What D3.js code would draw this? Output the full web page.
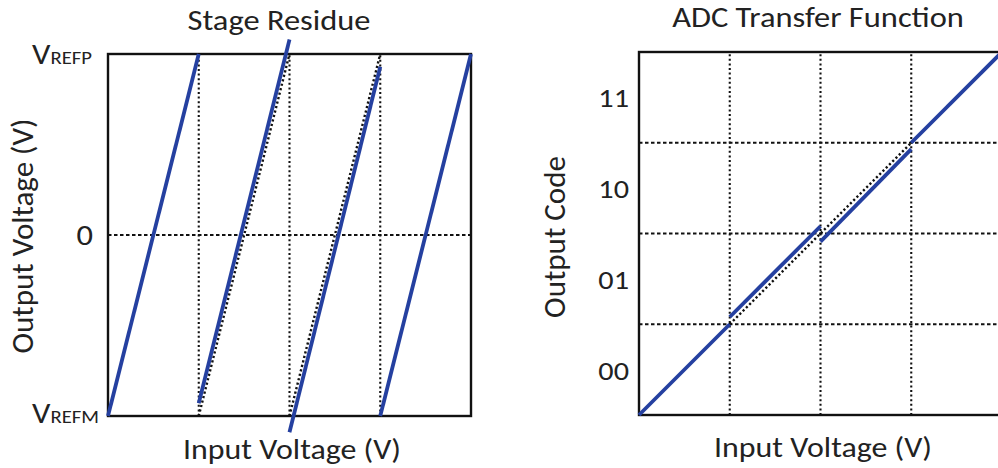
<!DOCTYPE html>
<html>
<head>
<meta charset="utf-8">
<script src="https://cdn.jsdelivr.net/npm/d3@7"></script>
<style>
  body { margin: 0; background: #fff; }
  svg { display: block; }
  text { font-family: Calibri, Carlito, "Open Sans", sans-serif; fill: #222; }
</style>
</head>
<body>
<svg id="vis" width="998" height="468"></svg>
<script>
// stage residue: blue segments (x in quarters of input range, y from VREFM=-1 to VREFP=1)
var residueSegments = [
  [[0, -1.00], [1, 1.00]],
  [[1, -0.93], [2, 1.08]],
  [[2, -1.09], [3, 0.93]],
  [[3, -1.00], [4, 1.00]]
];
var residueIdeal = [
  [[1, -1], [2, 1]],
  [[2, -1], [3, 1]]
];
var residueTicks = [
  {v: 1, main: "V", sub: "REFP"},
  {v: 0, main: "0", sub: ""},
  {v: -1, main: "V", sub: "REFM"}
];

// ADC transfer function: output code steps (y in code units 0..4)
var transferSegments = [
  [[0, 0.00], [1, 1.00]],
  [[1, 1.08], [2, 2.08]],
  [[2, 1.91], [3, 2.93]],
  [[3, 3.00], [4, 4.00]]
];
var transferIdeal = [
  [[1, 1], [3, 3]]
];
var codeLabels = ["00", "01", "10", "11"];
var gridLines = [1, 2, 3];

var blue = "#2540a0";
var stretch = " scale(1.12,1)";   // the source picture is a bit wider than tall

function makeCanvas(visName){
    return d3.select(visName);
}

function addDefaultText(canvas, transformation, text, size){
    return canvas.append('text')
                 .attr('text-anchor', 'middle')
                 .attr('transform', transformation)
                 .style('font-size', size + 'px')
                 .text(text);
}

function plotSegments(canvas, data, xScale, yScale, color, width, dash){
    return canvas.selectAll(null)
              .data(data)
              .enter().append("path")
              .attr("fill", "none")
              .attr("stroke", color)
              .attr("stroke-width", width)
              .attr("stroke-dasharray", dash)
              .attr("d", d3.line()
                    .x(function(d) { return xScale(d[0]) })
                    .y(function(d) { return yScale(d[1]) })
              );
}

function drawGrid(canvas, xScale, yScale, xs, ys){
    canvas.selectAll(null).data(xs).enter().append("line")
        .attr("x1", function(d){ return xScale(d) })
        .attr("x2", function(d){ return xScale(d) })
        .attr("y1", yScale.range()[0])
        .attr("y2", yScale.range()[1])
        .attr("stroke", "#111")
        .attr("stroke-width", 2.1)
        .attr("stroke-dasharray", "2,2.6");
    canvas.selectAll(null).data(ys).enter().append("line")
        .attr("y1", function(d){ return yScale(d) })
        .attr("y2", function(d){ return yScale(d) })
        .attr("x1", xScale.range()[0])
        .attr("x2", xScale.range()[1])
        .attr("stroke", "#111")
        .attr("stroke-width", 2.2)
        .attr("stroke-dasharray", "3.5,2.5");
}

function drawBox(canvas, xScale, yScale){
    return canvas.append("rect")
        .attr("x", xScale.range()[0])
        .attr("y", yScale.range()[1])
        .attr("width", xScale.range()[1] - xScale.range()[0])
        .attr("height", yScale.range()[0] - yScale.range()[1])
        .attr("fill", "none")
        .attr("stroke", "#111")
        .attr("stroke-width", 2.4);
}

var canvas = makeCanvas("#vis");

// ---- left: stage residue
var xL = d3.scaleLinear().domain([0, 4]).range([108, 471]);
var yL = d3.scaleLinear().domain([-1, 1]).range([416, 54]);
var left = canvas.append("g");

drawGrid(left, xL, yL, gridLines, [0]);
plotSegments(left, residueIdeal, xL, yL, "#111", 2.4, "2.2,2.4");
drawBox(left, xL, yL);
plotSegments(left, residueSegments, xL, yL, blue, 3.8, null);

var tl = left.selectAll(null).data(residueTicks).enter().append("text")
    .attr("text-anchor", function(d){ return d.sub ? "start" : "end" })
    .attr("transform", function(d){
        var x = d.sub ? 32 : 93;
        var y = yL(d.v) + (d.v < 0 ? 7 : 10);
        return "translate(" + x + "," + y + ")" + stretch;
    })
    .style("font-size", "29px");
tl.append("tspan").text(function(d){ return d.main });
tl.append("tspan").style("font-size", "18.5px").text(function(d){ return d.sub });

addDefaultText(left, "translate(279,30)" + stretch, "Stage Residue", 29);
addDefaultText(left, "translate(292,459)" + stretch, "Input Voltage (V)", 28.5);
addDefaultText(left, "translate(33,236) rotate(-90)", "Output Voltage (V)", 31);

// ---- right: ADC transfer function
var xR = d3.scaleLinear().domain([0, 4]).range([639, 1002]);
var yR = d3.scaleLinear().domain([0, 4]).range([415, 52]);
var right = canvas.append("g");

drawGrid(right, xR, yR, gridLines, gridLines);
plotSegments(right, transferIdeal, xR, yR, "#111", 2.4, "2.2,2.4");
drawBox(right, xR, yR);
plotSegments(right, transferSegments, xR, yR, blue, 3.8, null);

right.selectAll(null).data(codeLabels).enter().append("text")
    .attr("text-anchor", "end")
    .attr("transform", function(d, i){
        return "translate(629," + (yR(i + 0.5) + 10) + ")" + stretch;
    })
    .style("font-size", "27px")
    .text(function(d){ return d });

addDefaultText(right, "translate(818,27)" + stretch, "ADC Transfer Function", 29);
addDefaultText(right, "translate(823,457)" + stretch, "Input Voltage (V)", 28.5);
addDefaultText(right, "translate(565,237) rotate(-90)", "Output Code", 31);
</script>
</body>
</html>
